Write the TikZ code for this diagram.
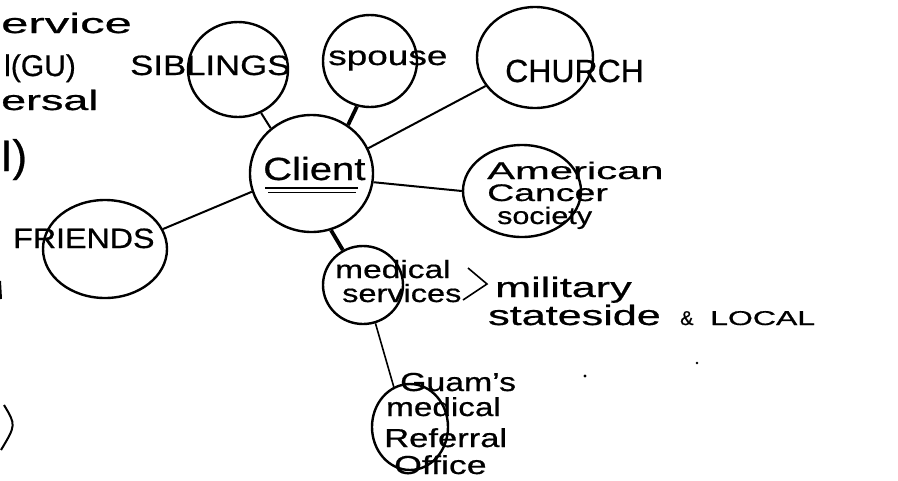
\documentclass[tikz,border=0pt]{standalone}
\usepackage{fontspec}
\setmainfont{Liberation Sans}[FakeBold=0.6]
\usetikzlibrary{shapes.geometric}
\newcommand\hw[2]{\scalebox{#1}[1]{#2}}
\newcommand\fs[1]{\fontsize{#1}{#1}\selectfont}
\begin{document}
\begin{tikzpicture}[x=1pt,y=-1pt,
  circ/.style={draw, ellipse, line width=2.4pt, inner sep=0pt},
  link/.style={line width=2pt},
  thicklink/.style={line width=3.8pt},
  thinlink/.style={line width=1.6pt},
  lbl/.style={anchor=base west, inner sep=0pt},
  lblR/.style={anchor=base east, inner sep=0pt}]
\useasboundingbox (0,0) rectangle (898,480);
\clip (0,0) rectangle (898,480);
% circles
\node[circ, minimum width=123pt, minimum height=117pt] (client) at (311.5,173.5) {};
\node[circ, minimum width=100pt, minimum height=95pt] (siblings) at (238,69.5) {};
\node[circ, minimum width=94pt, minimum height=92pt] (spouse) at (370,61) {};
\node[circ, minimum width=116pt, minimum height=101pt] (church) at (535,57.5) {};
\node[circ, minimum width=118pt, minimum height=92pt] (acs) at (522,191) {};
\node[circ, minimum width=124pt, minimum height=98pt] (friends) at (105,249) {};
\node[circ, minimum width=80pt, minimum height=78pt] (medical) at (363,285) {};
\node[circ, minimum width=76pt, minimum height=86pt] (guam) at (410,427) {};
% connectors
\draw[link] (client.132) -- (siblings.-62);
\draw[thicklink] (client.53) -- (spouse.-106);
\draw[link] (client.24) -- (church.210);
\draw[link] (client.-8) -- (acs.180);
\draw[link] (client.197) -- (friends.19);
\draw[thicklink] (client.-71) -- (medical.120);
\draw[thinlink] (medical.-72) -- (guam.112);
% labels
\node[lbl, font=\fs{28}] (tsib) at (130,75) {\hw{1.24}{SIBLINGS}};
\node[lbl, font=\fs{27}] (tspouse) at (328,65) {\hw{1.37}{spouse}};
\node[lbl, font=\fs{32}] (tchurch) at (505,82) {CHURCH};
\node[lbl, font=\fs{32}] (tclient) at (263,180) {\hw{1.25}{Client}};
\draw[line width=1.8pt] (265,188) -- (358,188);
\draw[line width=1.8pt] (268,192.5) -- (356,192.5);
\node[lbl, font=\fs{24}] (tacs1) at (487,179) {\hw{1.74}{American}};
\node[lbl, font=\fs{24}] (tacs2) at (487,201) {\hw{1.56}{Cancer}};
\node[lbl, font=\fs{24}] (tacs3) at (497,224) {\hw{1.27}{society}};
\node[lbl, font=\fs{28}] (tfriends) at (13,248) {\hw{1.15}{FRIENDS}};
\node[lbl, font=\fs{25}] (tmed1) at (335,278) {\hw{1.34}{medical}};
\node[lbl, font=\fs{25}] (tmed2) at (342,302) {\hw{1.3}{services}};
\draw[thinlink] (468,268) -- (487,284) -- (463,300);
\node[lbl, font=\fs{28}] (tmil) at (495,297) {\hw{1.54}{military}};
\node[lbl, font=\fs{28}] (tstate) at (488,325) {\hw{1.54}{stateside}};
\node[lbl, font=\fs{20}] (tamp) at (680,325) {\&};
\node[lbl, font=\fs{20}] (tlocal) at (710,325) {\hw{1.6}{LOCAL}};
\node[lbl, font=\fs{26}] (tg1) at (400,391) {\hw{1.3}{Guam's}};
\node[lbl, font=\fs{26}] (tg2) at (386,416) {\hw{1.28}{medical}};
\node[lbl, font=\fs{26}] (tg3) at (384,447) {\hw{1.33}{Referral}};
\node[lbl, font=\fs{26}] (tg4) at (394,474) {\hw{1.37}{Office}};
% dots
\fill (585,376) circle (1.6);
\fill (697,363) circle (1.4);
% partly visible notes at the left edge
\node[lbl, font=\fs{28}] (n1) at (1,33) {\hw{1.75}{ervice}};
\node[lbl, font=\fs{30}] (n2) at (4,76) {l(GU)};
\node[lbl, font=\fs{28}] (n3) at (1,110) {\hw{1.6}{ersal}};
\node[lbl, font=\fs{44}] (n4) at (0,171) {I)};
\draw[line width=2pt] (0,281) -- (1,299);
\draw[line width=2pt] (4,405) .. controls (16,425) .. (1,450);
\end{tikzpicture}
\end{document}
